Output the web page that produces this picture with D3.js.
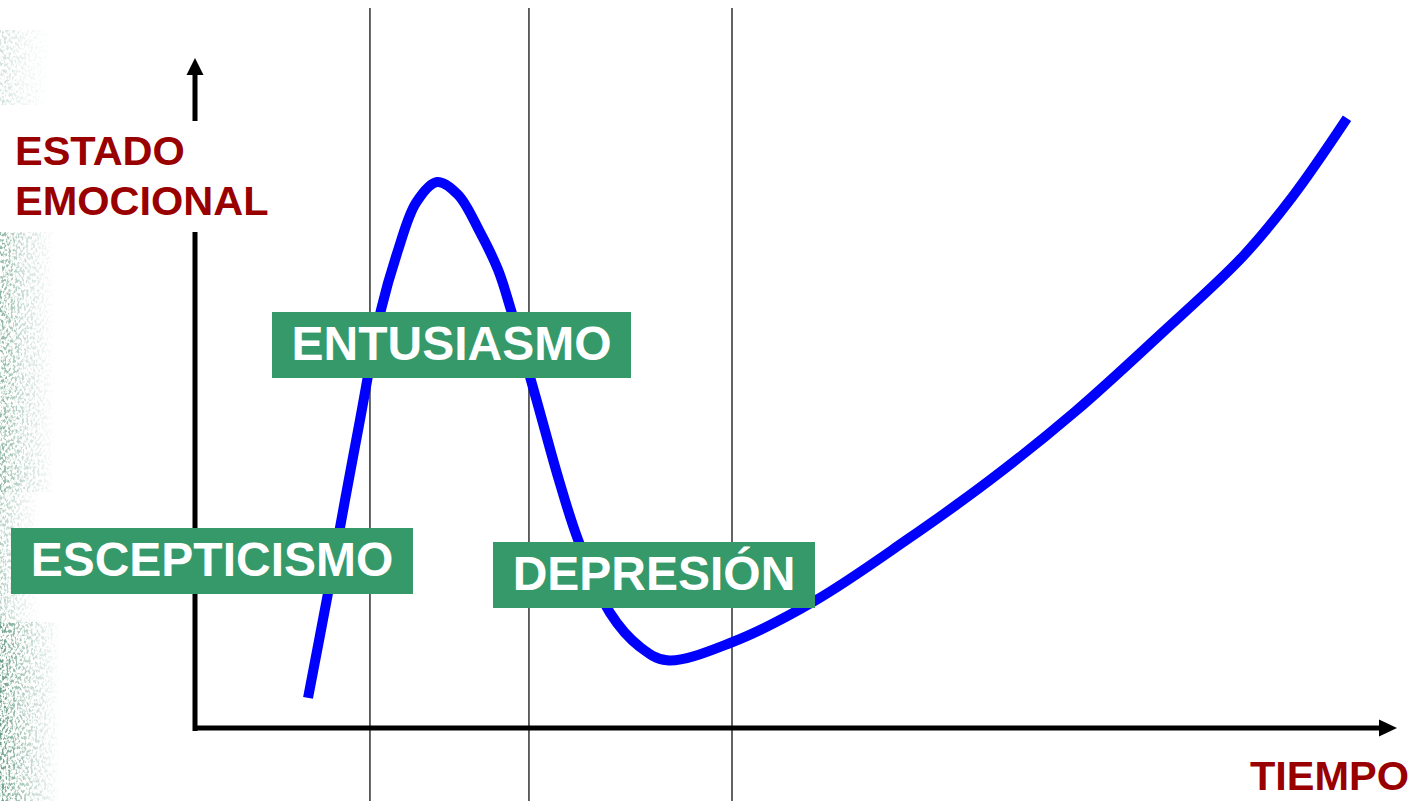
<!DOCTYPE html>
<html>
<head>
<meta charset="utf-8">
<script src="https://cdn.jsdelivr.net/npm/d3@7"></script>
<style>
  body { margin: 0; background: #fff; }
  svg { display: block; }
</style>
</head>
<body>
<div class="chart"></div>
<script>
const width = 1416
const height = 801

// curve of emotional state over time (0-100 on both axes)
const tiempo = [9.42, 11.08, 12.5, 13.75, 15.5, 16.92, 18.42, 20.17, 21.92, 23.75, 25.25, 26.33, 28.0, 28.92, 30.33, 31.92, 34.58, 37.08, 39.33, 44.75, 51.67, 59.33, 66.25, 73.33, 80.42, 87.33, 91.5, 96.0]
const estado = [4.5, 20.1, 34.0, 46.0, 62.4, 71.3, 78.4, 81.5, 79.6, 74.0, 68.4, 62.4, 51.9, 46.0, 37.0, 28.1, 17.2, 12.1, 10.1, 12.8, 19.0, 28.1, 37.0, 47.2, 58.7, 70.4, 79.4, 91.0]

// phase boundaries on the time axis
const fronteras = [14.58, 27.83, 44.75]

const fases = ["ESCEPTICISMO", "ENTUSIASMO", "DEPRESIÓN"]
const ejeY = ["ESTADO", "EMOCIONAL"]
const ejeX = "TIEMPO"

const x = d3.scaleLinear().domain([0, 100]).range([195, 1395])
const y = d3.scaleLinear().domain([0, 100]).range([728, 58])

const svg = d3.create("svg")
  .attr("width", width)
  .attr("height", height)
  .attr("viewBox", [0, 0, width, height])

const defs = svg.append("defs")

// speckled green strip at the left edge
const fade = defs.append("linearGradient").attr("id", "fade")
fade.append("stop").attr("offset", "0%").attr("stop-color", "#fff").attr("stop-opacity", 1)
fade.append("stop").attr("offset", "45%").attr("stop-color", "#fff").attr("stop-opacity", 0.45)
fade.append("stop").attr("offset", "100%").attr("stop-color", "#fff").attr("stop-opacity", 0)

const speckle = defs.append("filter").attr("id", "speckle")
  .attr("x", 0).attr("y", 0).attr("width", 1).attr("height", 1)
speckle.append("feTurbulence")
  .attr("type", "fractalNoise")
  .attr("baseFrequency", "0.45 0.3")
  .attr("numOctaves", 2)
  .attr("seed", 11)
speckle.append("feColorMatrix")
  .attr("type", "matrix")
  .attr("values", "0 0 0 0 0.14  0 0 0 0 0.34  0 0 0 0 0.24  4.5 0 0 0 -2.0")
speckle.append("feComposite").attr("in2", "SourceGraphic").attr("operator", "in")

const strips = [
  {y: 30, h: 75, w: 50, o: 0.3},
  {y: 232, h: 260, w: 55, o: 0.75},
  {y: 492, h: 130, w: 40, o: 0.5},
  {y: 622, h: 179, w: 60, o: 1}
]
svg.append("g")
  .selectAll("rect")
  .data(strips)
  .join("rect")
  .attr("x", 0)
  .attr("y", d => d.y)
  .attr("width", d => d.w)
  .attr("height", d => d.h)
  .attr("fill", "url(#fade)")
  .attr("opacity", d => d.o)
  .attr("filter", "url(#speckle)")

// phase separators
svg.append("g")
  .selectAll("line")
  .data(fronteras)
  .join("line")
  .attr("x1", d => x(d)).attr("x2", d => x(d))
  .attr("y1", 8).attr("y2", height)
  .attr("stroke", "#111")
  .attr("stroke-width", 1.3)

// axes with arrow heads
const [x0, x1] = x.range()
const [y0, y1] = y.range()
const axes = svg.append("g").attr("fill", "#000").attr("stroke", "#000")
axes.append("line")
  .attr("x1", x0).attr("x2", x0)
  .attr("y1", y0 + 3).attr("y2", y1 + 14)
  .attr("stroke-width", 5)
axes.append("path")
  .attr("stroke", "none")
  .attr("d", `M${x0},${y1} L${x0 - 8.5},${y1 + 17} L${x0 + 8.5},${y1 + 17} Z`)
axes.append("line")
  .attr("x1", x0 - 2).attr("x2", x1 - 14)
  .attr("y1", y0).attr("y2", y0)
  .attr("stroke-width", 5)
axes.append("path")
  .attr("stroke", "none")
  .attr("d", `M${x1 + 2},${y0} L${x1 - 16},${y0 - 8.5} L${x1 - 16},${y0 + 8.5} Z`)

// y axis title sits on a white box that breaks the axis
svg.append("rect")
  .attr("x", 0).attr("y", 121).attr("width", 278).attr("height", 111)
  .attr("fill", "#fff")
svg.append("g")
  .selectAll("text")
  .data(ejeY)
  .join("text")
  .attr("x", 15)
  .attr("y", (d, i) => 165 + i * 50)
  .style("font", "bold 41.5px 'Liberation Sans', Arial, sans-serif")
  .attr("fill", "#990000")
  .text(d => d)

svg.append("text")
  .attr("x", 1409)
  .attr("y", 790)
  .attr("text-anchor", "end")
  .style("font", "bold 41.5px 'Liberation Sans', Arial, sans-serif")
  .attr("fill", "#990000")
  .text(ejeX)

// the curve
const puntos = tiempo.map((t, i) => [t, estado[i]])
const line = d3.line()
  .x(d => x(d[0]))
  .y(d => y(d[1]))
  .curve(d3.curveCatmullRom.alpha(0.5))

svg.append("path")
  .datum(puntos)
  .attr("fill", "none")
  .attr("stroke", "#0000ff")
  .attr("stroke-width", 10)
  .attr("d", line)

// phase labels
const cajas = [
  {x: 11, y: 528, w: 402, h: 66},
  {x: 272, y: 312, w: 359, h: 66},
  {x: 493, y: 542, w: 322, h: 66}
]
const etiquetas = svg.append("g")
  .selectAll("g")
  .data(fases)
  .join("g")
  .attr("transform", (d, i) => `translate(${cajas[i].x}, ${cajas[i].y})`)
etiquetas.append("rect")
  .attr("width", (d, i) => cajas[i].w)
  .attr("height", (d, i) => cajas[i].h)
  .attr("fill", "#35996a")
etiquetas.append("text")
  .attr("x", (d, i) => cajas[i].w / 2)
  .attr("y", 48)
  .attr("text-anchor", "middle")
  .style("font", "bold 48px 'Liberation Sans', Arial, sans-serif")
  .attr("fill", "#fff")
  .text(d => d)

document.querySelector(".chart").append(svg.node())
</script>
</body>
</html>
